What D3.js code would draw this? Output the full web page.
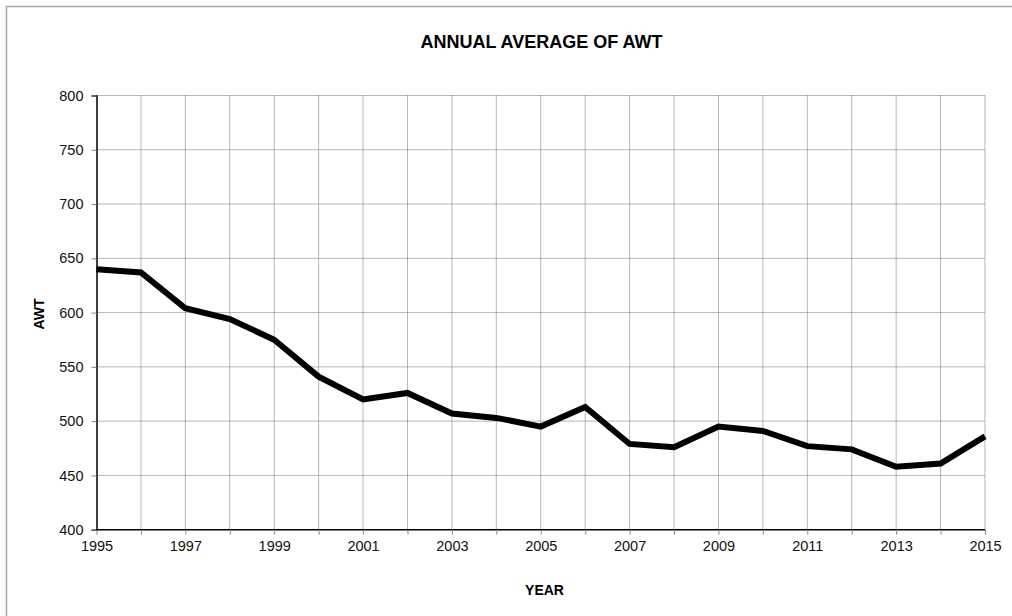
<!DOCTYPE html>
<html>
<head>
<meta charset="utf-8">
<script src="https://cdn.jsdelivr.net/npm/d3@7"></script>
<style>
  html, body { margin: 0; padding: 0; background: #fff; }
  svg { display: block; font-family: "Liberation Sans", Arial, sans-serif; }
</style>
</head>
<body>
<svg id="chart" width="1012" height="616"></svg>
<script>
const years = [1995,1996,1997,1998,1999,2000,2001,2002,2003,2004,2005,2006,2007,2008,2009,2010,2011,2012,2013,2014,2015];
const awt   = [640,637,604,594,575,541,520,526,507,503,495,513,479,476,495,491,477,474,458,461,486];
const yTicks = [400,450,500,550,600,650,700,750,800];
const xLabelYears = [1995,1997,1999,2001,2003,2005,2007,2009,2011,2013,2015];
const title = "ANNUAL AVERAGE OF AWT";
const xTitle = "YEAR";
const yTitle = "AWT";

const svg = d3.select("#chart");
const pLeft = 96.5, pRight = 985, pTop = 95.5, pBottom = 529.7;

// outer frame (partially visible)
svg.append("path")
  .attr("d", `M6.5,${620} V6.5 H${1020}`)
  .attr("fill", "none").attr("stroke", "#a8a8a8").attr("stroke-width", 1.5);

const x = d3.scaleLinear().domain([1995, 2015]).range([pLeft, pRight]);
const y = d3.scaleLinear().domain([400, 800]).range([pBottom, pTop]);

// grid
const grid = svg.append("g");
grid.selectAll("line.v").data(years.slice(1)).join("line")
  .attr("x1", d => x(d)).attr("x2", d => x(d))
  .attr("y1", pTop).attr("y2", pBottom)
  .attr("stroke", "#6e6e6e").attr("stroke-width", 1).attr("stroke-dasharray", "1,1");
grid.selectAll("line.h").data(yTicks.slice(1)).join("line")
  .attr("x1", pLeft).attr("x2", pRight)
  .attr("y1", d => y(d)).attr("y2", d => y(d))
  .attr("stroke", "#6e6e6e").attr("stroke-width", 1).attr("stroke-dasharray", "1,1");

// axes
const yAxis = d3.axisLeft(y).tickValues(yTicks).tickSize(5).tickPadding(8).tickFormat(d3.format("d"));
const gy = svg.append("g").attr("transform", `translate(${pLeft},0)`).call(yAxis);
gy.select(".domain").attr("stroke", "#000").attr("stroke-width", 1.5);
gy.selectAll(".tick line").attr("stroke", "#888");
gy.selectAll("text").attr("font-size", 14.5).attr("fill", "#111").attr("font-family", "Liberation Sans, Arial, sans-serif");

const xAxis = d3.axisBottom(x).tickValues(years).tickSize(5).tickPadding(6)
  .tickFormat(d => xLabelYears.includes(d) ? String(d) : "");
const gx = svg.append("g").attr("transform", `translate(0,${pBottom})`).call(xAxis);
gx.select(".domain").attr("stroke", "#000").attr("stroke-width", 1.5).attr("d", `M${pLeft},0H${pRight}`);
gx.selectAll(".tick line").attr("stroke", "#888");
gx.selectAll("text").attr("font-size", 14.5).attr("fill", "#111").attr("font-family", "Liberation Sans, Arial, sans-serif");

// line
const line = d3.line().x((d, i) => x(years[i])).y(d => y(d));
svg.append("path").datum(awt)
  .attr("d", line)
  .attr("fill", "none").attr("stroke", "#000").attr("stroke-width", 6)
  .attr("stroke-linejoin", "miter").attr("stroke-linecap", "butt");

// titles
svg.append("text").attr("x", 541.5).attr("y", 47.5).attr("text-anchor", "middle")
  .attr("font-size", 18).attr("font-weight", "bold").attr("fill", "#000").text(title);
svg.append("text").attr("x", 544.5).attr("y", 595).attr("text-anchor", "middle")
  .attr("font-size", 14).attr("font-weight", "bold").attr("fill", "#000").text(xTitle);
svg.append("text").attr("transform", "translate(44,314) rotate(-90)").attr("text-anchor", "middle")
  .attr("font-size", 14).attr("font-weight", "bold").attr("fill", "#000").text(yTitle);
</script>
</body>
</html>
